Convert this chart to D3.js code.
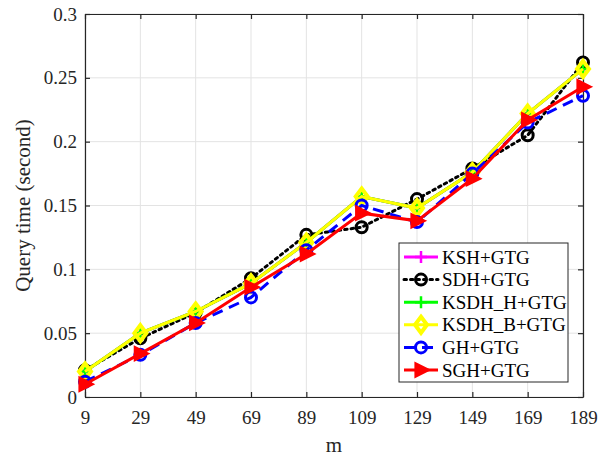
<!DOCTYPE html>
<html><head><meta charset="utf-8">
<script src="https://cdn.jsdelivr.net/npm/d3@7"></script>
<style>body{margin:0;background:#fff}svg{display:block}</style>
</head><body>
<script>
const mValues = [9, 29, 49, 69, 89, 109, 129, 149, 169, 189];
const yTicks = [0, 0.05, 0.1, 0.15, 0.2, 0.25, 0.3];
const seriesNames = ["KSH+GTG", "SDH+GTG", "KSDH_H+GTG", "KSDH_B+GTG", "GH+GTG", "SGH+GTG"];
const kshGtg   = [0.020, 0.050, 0.067, 0.089, 0.121, 0.157, 0.148, 0.176, 0.222, 0.257];
const sdhGtg   = [0.021, 0.046, 0.066, 0.093, 0.127, 0.133, 0.155, 0.179, 0.205, 0.262];
const ksdhHGtg = [0.020, 0.050, 0.067, 0.089, 0.121, 0.157, 0.148, 0.176, 0.222, 0.257];
const ksdhBGtg = [0.020, 0.050, 0.067, 0.089, 0.121, 0.157, 0.148, 0.176, 0.222, 0.257];
const ghGtg    = [0.012, 0.033, 0.058, 0.078, 0.115, 0.150, 0.137, 0.175, 0.215, 0.236];
const sghGtg   = [0.010, 0.034, 0.058, 0.086, 0.112, 0.144, 0.138, 0.171, 0.217, 0.243];

const W = 598, H = 457;
const margin = {left: 85, right: 15, top: 14, bottom: 60};
const svg = d3.select("body").append("svg").attr("width", W).attr("height", H);
const x = d3.scaleLinear().domain([9, 189]).range([margin.left, W - margin.right]);
const y = d3.scaleLinear().domain([0, 0.3]).range([H - margin.bottom, margin.top]);
const font = "Liberation Serif";
const axisColor = "#262626";

// grid
const g = svg.append("g");
g.selectAll(".gx").data(mValues).join("line")
  .attr("x1", d => x(d)).attr("x2", d => x(d)).attr("y1", y(0)).attr("y2", y(0.3))
  .attr("stroke", "#e3e3e3").attr("stroke-width", 1);
g.selectAll(".gy").data(yTicks).join("line")
  .attr("x1", x(9)).attr("x2", x(189)).attr("y1", d => y(d)).attr("y2", d => y(d))
  .attr("stroke", "#e3e3e3").attr("stroke-width", 1);

// axes
function styleAxis(sel) {
  sel.attr("font-family", font).attr("font-size", 19);
  sel.selectAll("path").attr("stroke", axisColor).attr("stroke-width", 1.2);
  sel.selectAll("line").attr("stroke", axisColor).attr("stroke-width", 1.2);
  sel.selectAll("text").attr("fill", axisColor).attr("font-family", font);
}
const xAxis = svg.append("g").attr("transform", `translate(0,${y(0)})`)
  .call(d3.axisBottom(x).tickValues(mValues).tickSize(-5).tickSizeOuter(0).tickPadding(14));
styleAxis(xAxis);
const yAxis = svg.append("g").attr("transform", `translate(${x(9)},0)`)
  .call(d3.axisLeft(y).tickValues(yTicks).tickFormat(d => String(+d.toFixed(2))).tickSize(-5).tickSizeOuter(0).tickPadding(8));
styleAxis(yAxis);
const xTop = svg.append("g").attr("transform", `translate(0,${y(0.3)})`)
  .call(d3.axisTop(x).tickValues(mValues).tickSize(-5).tickSizeOuter(0).tickFormat(""));
styleAxis(xTop);
const yRight = svg.append("g").attr("transform", `translate(${x(189)},0)`)
  .call(d3.axisRight(y).tickValues(yTicks).tickSize(-5).tickSizeOuter(0).tickFormat(""));
styleAxis(yRight);

// labels
svg.append("text").attr("x", (x(9) + x(189)) / 2).attr("y", 452).attr("text-anchor", "middle")
  .attr("fill", axisColor).attr("font-family", font).attr("font-size", 21).text("m");
svg.append("text").attr("transform", `translate(30,${(y(0) + y(0.3)) / 2}) rotate(-90)`)
  .attr("text-anchor", "middle").attr("fill", axisColor).attr("font-family", font).attr("font-size", 21)
  .text("Query time (second)");

// series
const series = [
  {name: seriesNames[0], values: kshGtg, color: "#ff00ff", dash: null, marker: "plus", fill: "none"},
  {name: seriesNames[1], values: sdhGtg, color: "#000000", dash: "2.5,4", marker: "circle", fill: "none"},
  {name: seriesNames[2], values: ksdhHGtg, color: "#00ff00", dash: null, marker: "plus", fill: "none"},
  {name: seriesNames[3], values: ksdhBGtg, color: "#ffff00", dash: null, marker: "diamond", fill: "none"},
  {name: seriesNames[4], values: ghGtg, color: "#0000ff", dash: "11,7", marker: "circle", fill: "none"},
  {name: seriesNames[5], values: sghGtg, color: "#ff0000", dash: null, marker: "triangle", fill: "#ff0000"}
];
const line = d3.line().x((d, i) => x(mValues[i])).y(d => y(d));

function drawMarker(sel, s, cx, cy, scale = 1) {
  if (s.marker === "circle") {
    sel.append("circle").attr("cx", cx).attr("cy", cy).attr("r", 5.5 * scale)
      .attr("fill", "none").attr("stroke", s.color).attr("stroke-width", 3);
  } else if (s.marker === "plus") {
    const r = 6 * scale;
    sel.append("path").attr("d", `M${cx - r},${cy}H${cx + r}M${cx},${cy - r}V${cy + r}`)
      .attr("stroke", s.color).attr("stroke-width", 2.5).attr("fill", "none");
  } else if (s.marker === "diamond") {
    const r = 8 * scale;
    sel.append("path").attr("d", `M${cx},${cy - r}L${cx + r * 0.75},${cy}L${cx},${cy + r}L${cx - r * 0.75},${cy}Z`)
      .attr("stroke", s.color).attr("stroke-width", 4).attr("fill", "none").attr("stroke-linejoin", "miter");
  } else if (s.marker === "triangle") {
    const r = 8 * scale;
    sel.append("path").attr("d", `M${cx + r},${cy}L${cx - r * 0.7},${cy - r * 0.85}L${cx - r * 0.7},${cy + r * 0.85}Z`)
      .attr("stroke", s.color).attr("stroke-width", 2).attr("fill", s.fill).attr("stroke-linejoin", "miter");
  }
}

series.forEach(s => {
  const sg = svg.append("g");
  sg.append("path").datum(s.values).attr("d", line).attr("fill", "none")
    .attr("stroke", s.color).attr("stroke-width", 3)
    .attr("stroke-dasharray", s.dash).attr("stroke-linecap", s.dash && s.dash.startsWith("2.5") ? "round" : "butt");
  s.values.forEach((v, i) => drawMarker(sg, s, x(mValues[i]), y(v)));
});

// legend
const lg = svg.append("g");
const lx = 399, ly = 243, lw = 169, lh = 139;
lg.append("rect").attr("x", lx).attr("y", ly).attr("width", lw).attr("height", lh)
  .attr("fill", "#fff").attr("stroke", axisColor).attr("stroke-width", 1);
series.forEach((s, i) => {
  const cy = ly + 14 + i * 22.6;
  lg.append("line").attr("x1", lx + 5).attr("x2", lx + 39).attr("y1", cy).attr("y2", cy)
    .attr("stroke", s.color).attr("stroke-width", 3).attr("stroke-dasharray", s.dash)
    .attr("stroke-linecap", s.dash && s.dash.startsWith("2.5") ? "round" : "butt");
  drawMarker(lg, s, lx + 22, cy);
  lg.append("text").attr("x", lx + 43).attr("y", cy).attr("dy", "0.35em")
    .attr("fill", "#000").attr("font-family", font).attr("font-size", 19).text(s.name);
});
</script>
</body></html>
